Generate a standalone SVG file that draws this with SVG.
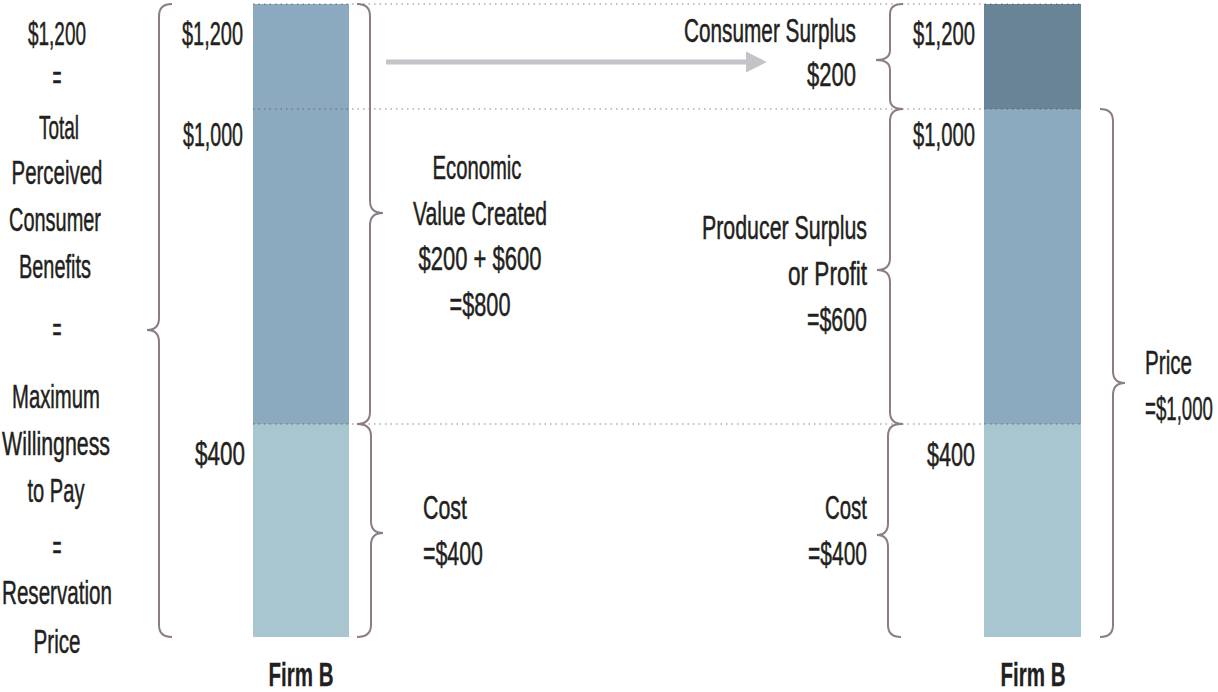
<svg xmlns="http://www.w3.org/2000/svg" width="1218" height="692" viewBox="0 0 1218 692">
<style>
text{font-family:"Liberation Sans Narrow","Liberation Sans",Arial,sans-serif;font-size:33px;fill:#231f20;stroke:#231f20;stroke-width:0.5}
.m{text-anchor:middle}
.e{text-anchor:end}
.b{font-weight:bold;stroke-width:0.3}
.brace{fill:none;stroke:#8d7b87;stroke-width:2}
.dot{stroke:#4a4a4a;stroke-opacity:0.45;stroke-width:1.5;stroke-dasharray:1.5 4}
</style>
<defs>
<marker id="ah" viewBox="0 0 10 10" refX="2" refY="5" markerWidth="4.2" markerHeight="4.6" orient="auto" markerUnits="strokeWidth">
<path d="M0,0 L10,5 L0,10 z" fill="#c2c4c7"/>
</marker>
</defs>
<rect width="1218" height="692" fill="#ffffff"/>

<g id="left-label">
<text class="m" x="57" y="45" textLength="58" lengthAdjust="spacingAndGlyphs">$1,200</text>
<text class="m" x="57" y="89" textLength="9" lengthAdjust="spacingAndGlyphs">=</text>
<text class="m" x="59" y="139" textLength="40" lengthAdjust="spacingAndGlyphs">Total</text>
<text class="m" x="57" y="184" textLength="91" lengthAdjust="spacingAndGlyphs">Perceived</text>
<text class="m" x="55" y="231" textLength="92" lengthAdjust="spacingAndGlyphs">Consumer</text>
<text class="m" x="55" y="278" textLength="72" lengthAdjust="spacingAndGlyphs">Benefits</text>
<text class="m" x="57" y="341" textLength="9" lengthAdjust="spacingAndGlyphs">=</text>
<text class="m" x="56" y="408" textLength="88" lengthAdjust="spacingAndGlyphs">Maximum</text>
<text class="m" x="56" y="455" textLength="108" lengthAdjust="spacingAndGlyphs">Willingness</text>
<text class="m" x="56" y="502" textLength="57" lengthAdjust="spacingAndGlyphs">to Pay</text>
<text class="m" x="57" y="559" textLength="9" lengthAdjust="spacingAndGlyphs">=</text>
<text class="m" x="57" y="604" textLength="110" lengthAdjust="spacingAndGlyphs">Reservation</text>
<text class="m" x="57" y="653" textLength="47" lengthAdjust="spacingAndGlyphs">Price</text>
</g>

<g id="bar-left">
<rect x="253" y="4" width="96" height="420" fill="#8caabf"/>
<rect x="253" y="424" width="96" height="213" fill="#a8c6cf"/>
<text class="e" x="243" y="45" textLength="61" lengthAdjust="spacingAndGlyphs">$1,200</text>
<text class="e" x="243" y="146" textLength="60" lengthAdjust="spacingAndGlyphs">$1,000</text>
<text class="e" x="245" y="465" textLength="50" lengthAdjust="spacingAndGlyphs">$400</text>
<text class="m b" x="301" y="686" textLength="65" lengthAdjust="spacingAndGlyphs">Firm B</text>
</g>

<g id="bar-right">
<rect x="984" y="4" width="97" height="105" fill="#6a8497"/>
<rect x="984" y="109" width="97" height="315" fill="#8caabf"/>
<rect x="984" y="424" width="97" height="213" fill="#a8c6cf"/>
<text class="e" x="975" y="45" textLength="62" lengthAdjust="spacingAndGlyphs">$1,200</text>
<text class="e" x="975" y="146" textLength="62" lengthAdjust="spacingAndGlyphs">$1,000</text>
<text class="e" x="975" y="466" textLength="48" lengthAdjust="spacingAndGlyphs">$400</text>
<text class="m b" x="1033" y="686" textLength="65" lengthAdjust="spacingAndGlyphs">Firm B</text>
</g>

<g id="guides">
<line class="dot" x1="253" y1="4" x2="1081" y2="4"/>
<line class="dot" x1="253" y1="109" x2="1081" y2="109"/>
<line class="dot" x1="253" y1="424" x2="1081" y2="424"/>
</g>

<g id="economic-value">
<text class="m" x="477" y="179" textLength="89" lengthAdjust="spacingAndGlyphs">Economic</text>
<text class="m" x="480" y="225" textLength="134" lengthAdjust="spacingAndGlyphs">Value Created</text>
<text class="m" x="480" y="270" textLength="123" lengthAdjust="spacingAndGlyphs">$200 + $600</text>
<text class="m" x="480" y="316" textLength="61" lengthAdjust="spacingAndGlyphs">=$800</text>
</g>

<g id="cost-left">
<text x="423" y="519" textLength="44" lengthAdjust="spacingAndGlyphs">Cost</text>
<text x="423" y="565" textLength="60" lengthAdjust="spacingAndGlyphs">=$400</text>
</g>

<g id="consumer-surplus">
<text class="e" x="856" y="42" textLength="172" lengthAdjust="spacingAndGlyphs">Consumer Surplus</text>
<text class="e" x="856" y="86" textLength="49" lengthAdjust="spacingAndGlyphs">$200</text>
</g>

<g id="producer-surplus">
<text class="e" x="867" y="239" textLength="165" lengthAdjust="spacingAndGlyphs">Producer Surplus</text>
<text class="e" x="867" y="285" textLength="79" lengthAdjust="spacingAndGlyphs">or Profit</text>
<text class="e" x="867" y="331" textLength="60" lengthAdjust="spacingAndGlyphs">=$600</text>
</g>

<g id="cost-right">
<text class="e" x="867" y="519" textLength="42" lengthAdjust="spacingAndGlyphs">Cost</text>
<text class="e" x="867" y="565" textLength="59" lengthAdjust="spacingAndGlyphs">=$400</text>
</g>

<g id="price">
<text x="1145" y="374" textLength="47" lengthAdjust="spacingAndGlyphs">Price</text>
<text class="e" x="1213" y="420" textLength="68" lengthAdjust="spacingAndGlyphs">=$1,000</text>
</g>

<g id="connectors">
<path class="brace" d="M172,4 Q159,4 159,16 L159,318 Q159,330 147,330 Q159,330 159,342 L159,625 Q159,637 172,637"/>
<path class="brace" d="M357,4 Q370,4 370,16 L370,201 Q370,213 383,213 Q370,213 370,225 L370,412 Q370,424 357,424"/>
<path class="brace" d="M357,424 Q371,424 371,436 L371,521 Q371,533 383,533 Q371,533 371,545 L371,625 Q371,637 357,637"/>
<path class="brace" d="M903,4 Q890,4 890,14 L890,50 Q890,60 876,60 Q890,60 890,70 L890,99 Q890,109 903,109"/>
<path class="brace" d="M903,109 Q890,109 890,121 L890,258 Q890,270 877,270 Q890,270 890,282 L890,412 Q890,424 903,424"/>
<path class="brace" d="M901,424 Q888,424 888,436 L888,523 Q888,535 877,535 Q888,535 888,547 L888,625 Q888,637 901,637"/>
<path class="brace" d="M1100,109 Q1113,109 1113,121 L1113,371 Q1113,383 1125,383 Q1113,383 1113,395 L1113,625 Q1113,637 1100,637"/>
<line x1="386" y1="62" x2="750" y2="62" stroke="#c2c4c7" stroke-width="5" marker-end="url(#ah)"/>
</g>
</svg>
